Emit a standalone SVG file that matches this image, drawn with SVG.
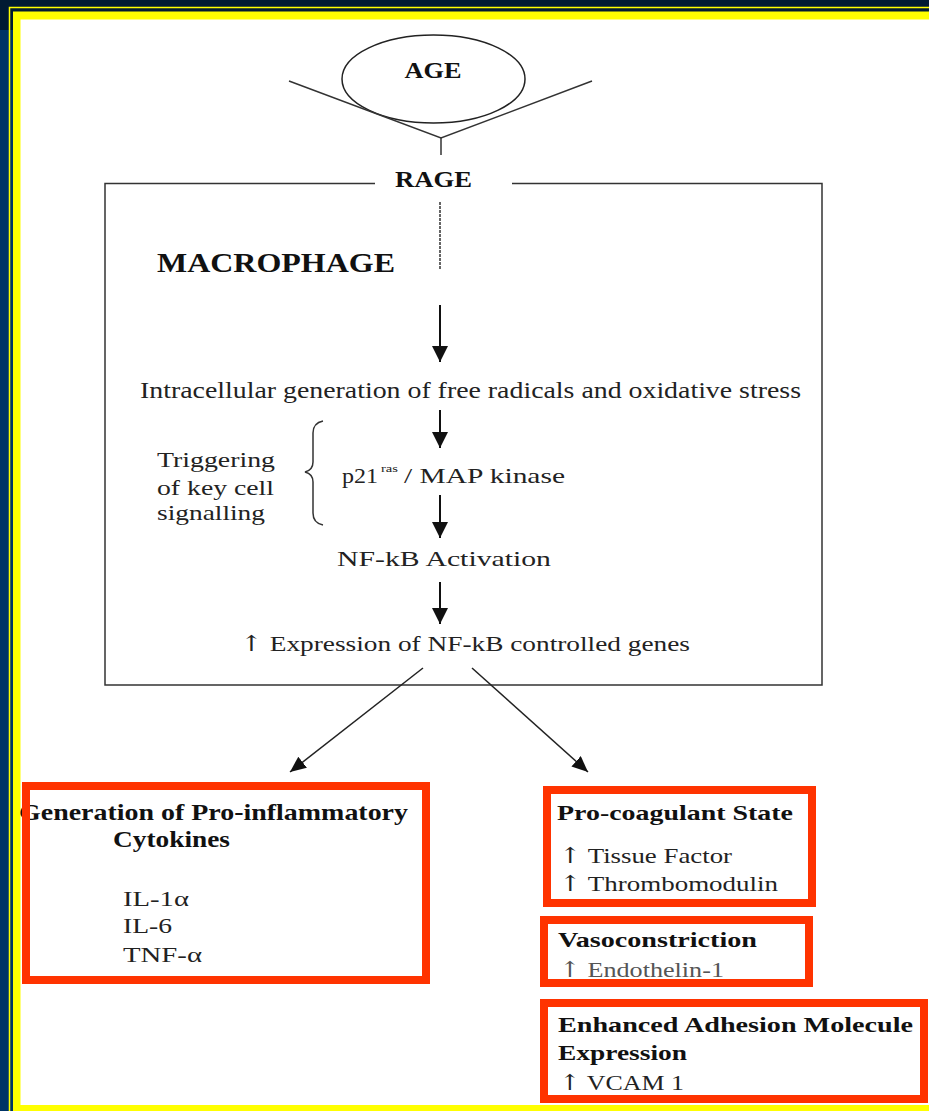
<svg xmlns="http://www.w3.org/2000/svg" width="929" height="1111" viewBox="0 0 929 1111">
<style>
.b{font-family:"Liberation Serif","Times New Roman",serif;font-weight:bold;fill:#111}
.r{font-family:"Liberation Serif","Times New Roman",serif;fill:#222}
.up{font-family:"DejaVu Serif",serif;font-weight:normal}
.ln{stroke:#333;stroke-width:1.5;fill:none}
.ar{stroke:#111;stroke-width:2;fill:none;marker-end:url(#ah)}
.dg{stroke:#222;stroke-width:1.5;fill:none;marker-end:url(#ah2)}
.red{stroke:#ff3300;stroke-width:8;fill:none}
</style>
<defs>
<marker id="ah" markerUnits="userSpaceOnUse" markerWidth="18" markerHeight="18" refX="16" refY="8" orient="auto">
<path d="M0,0 L16,8 L0,16 z" fill="#111"/>
</marker>
<marker id="ah2" markerUnits="userSpaceOnUse" markerWidth="18" markerHeight="18" refX="16" refY="7" orient="auto">
<path d="M0,0 L16,7 L0,14 z" fill="#111"/>
</marker>
</defs>
<g id="frame">
<rect x="0" y="0" width="929" height="1111" fill="#001a33"/>
<rect x="0" y="30" width="13" height="1081" fill="#003366"/>
<path d="M9.5,1111 V7.5 H929" stroke="#ffff00" stroke-width="1.5" fill="none"/>
<rect x="13" y="11.5" width="916" height="1099.5" fill="#ffff00"/>
<rect x="20.5" y="19.5" width="908.5" height="1085.5" fill="#ffffff"/>
</g>
<g id="age">
<ellipse cx="433.5" cy="79" rx="91.5" ry="44" fill="none" stroke="#222" stroke-width="1.5"/>
<text class="b" x="433" y="78" font-size="23" text-anchor="middle" textLength="57" lengthAdjust="spacingAndGlyphs">AGE</text>
</g>
<g id="rage">
<path class="ln" d="M289,81 L441,138 L592,81"/>
<path class="ln" d="M441,138 V155"/>
<text class="b" x="433.5" y="187" font-size="24" text-anchor="middle" textLength="77" lengthAdjust="spacingAndGlyphs">RAGE</text>
</g>
<g id="macrophage">
<path class="ln" d="M375,183.5 H105 V685 H822 V183.5 H512"/>
<text class="b" x="157" y="272" font-size="27" textLength="238" lengthAdjust="spacingAndGlyphs">MACROPHAGE</text>
</g>
<g id="freeradicals">
<text class="r" x="140" y="398" font-size="23" textLength="661" lengthAdjust="spacingAndGlyphs">Intracellular generation of free radicals and oxidative stress</text>
</g>
<g id="triggering">
<text class="r" x="157" y="467" font-size="22" textLength="118" lengthAdjust="spacingAndGlyphs">Triggering</text>
<text class="r" x="157" y="495" font-size="22" textLength="117" lengthAdjust="spacingAndGlyphs">of key cell</text>
<text class="r" x="157" y="520" font-size="22" textLength="108" lengthAdjust="spacingAndGlyphs">signalling</text>
<path class="ln" d="M323,421 Q313,423 313,433 V462 Q313,470 305,472 Q313,474 313,482 V513 Q313,523 323,525"/>
</g>
<g id="p21">
<text class="r" font-size="22"><tspan x="342" y="483" textLength="36" lengthAdjust="spacingAndGlyphs">p21</tspan><tspan x="381" y="472" font-size="11" textLength="17" lengthAdjust="spacingAndGlyphs">ras</tspan><tspan x="404" y="483" textLength="161" lengthAdjust="spacingAndGlyphs">/ MAP kinase</tspan></text>
</g>
<g id="nfkb">
<text class="r" x="337" y="566" font-size="22" textLength="214" lengthAdjust="spacingAndGlyphs">NF-kB Activation</text>
</g>
<g id="expression">
<text class="r" x="240" y="651" font-size="22" textLength="450" lengthAdjust="spacingAndGlyphs"><tspan class="up">↑</tspan> Expression of NF-kB controlled genes</text>
</g>
<g id="connectors">
<path class="ln" d="M440,202 V270" stroke-dasharray="3,1" stroke="#666"/>
<path class="ar" d="M440,305 V362"/>
<path class="ar" d="M440,410 V448"/>
<path class="ar" d="M440,495 V538"/>
<path class="ar" d="M440,582 V624"/>
<path class="dg" d="M423,668 L290,772"/>
<path class="dg" d="M472,668 L588,772"/>
</g>
<g id="cytokines">
<text class="b" x="19" y="820" font-size="23" textLength="389" lengthAdjust="spacingAndGlyphs">Generation of Pro-inflammatory</text>
<text class="b" x="113" y="847" font-size="23" textLength="117" lengthAdjust="spacingAndGlyphs">Cytokines</text>
<text class="r" x="123" y="906" font-size="22" textLength="66" lengthAdjust="spacingAndGlyphs">IL-1α</text>
<text class="r" x="123" y="933" font-size="22" textLength="49" lengthAdjust="spacingAndGlyphs">IL-6</text>
<text class="r" x="123" y="962" font-size="22" textLength="79" lengthAdjust="spacingAndGlyphs">TNF-α</text>
<rect class="red" x="26" y="786" width="400" height="194"/>
</g>
<g id="procoagulant">
<rect class="red" x="547" y="790" width="265" height="113"/>
<text class="b" x="557" y="820" font-size="22" textLength="236" lengthAdjust="spacingAndGlyphs">Pro-coagulant State</text>
<text class="r" x="559" y="863" font-size="22" textLength="173" lengthAdjust="spacingAndGlyphs"><tspan class="up">↑</tspan> Tissue Factor</text>
<text class="r" x="559" y="891" font-size="22" textLength="219" lengthAdjust="spacingAndGlyphs"><tspan class="up">↑</tspan> Thrombomodulin</text>
</g>
<g id="vasoconstriction">
<rect class="red" x="544" y="920" width="265" height="63"/>
<text class="b" x="558" y="947" font-size="22" textLength="199" lengthAdjust="spacingAndGlyphs">Vasoconstriction</text>
<text class="r" x="559" y="977" font-size="22" style="fill:#555" textLength="165" lengthAdjust="spacingAndGlyphs"><tspan class="up">↑</tspan> Endothelin-1</text>
</g>
<g id="adhesion">
<rect class="red" x="544" y="1003" width="380" height="96"/>
<text class="b" x="558" y="1032" font-size="22" textLength="355" lengthAdjust="spacingAndGlyphs">Enhanced Adhesion Molecule</text>
<text class="b" x="558" y="1060" font-size="22" textLength="129" lengthAdjust="spacingAndGlyphs">Expression</text>
<text class="r" x="559" y="1090" font-size="22" textLength="125" lengthAdjust="spacingAndGlyphs"><tspan class="up">↑</tspan> VCAM 1</text>
</g>
</svg>
